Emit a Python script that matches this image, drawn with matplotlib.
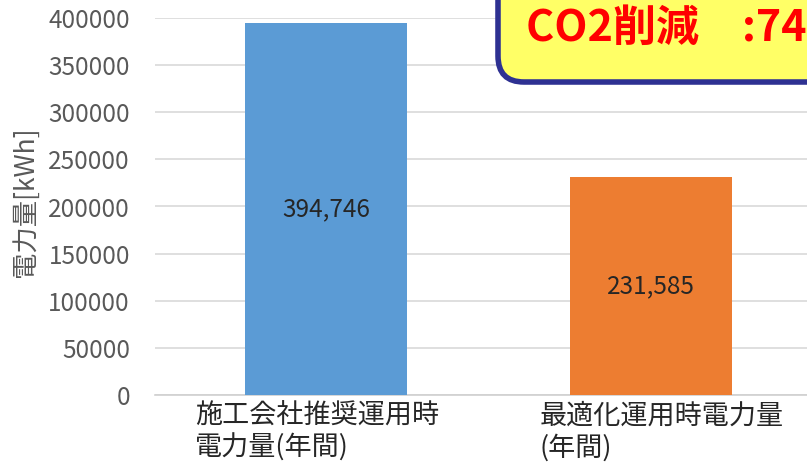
import matplotlib
matplotlib.use("Agg")
import matplotlib.pyplot as plt
from matplotlib.patches import FancyBboxPatch
from matplotlib.transforms import IdentityTransform

plt.rcParams['font.family'] = ['Noto Sans CJK JP', 'DejaVu Sans']

categories = ["施工会社推奨運用時\n電力量(年間)", "最適化運用時電力量\n(年間)"]
values = [394746, 231585]
value_labels = ["394,746", "231,585"]
bar_colors = ["#5B9BD5", "#ED7D31"]
y_ticks = [0, 50000, 100000, 150000, 200000, 250000, 300000, 350000, 400000]
y_label = "電力量[kWh]"
callout_text = "CO2削減　:74"

W, H = 807, 465
fig = plt.figure(figsize=(W / 100, H / 100), dpi=100)
fig.patch.set_facecolor("white")

left, right, bottom, top = 155, 815, 395, 18
ax = fig.add_axes([left / W, 1 - bottom / H, (right - left) / W, (bottom - top) / H])

x = list(range(len(categories)))
ax.bar(x, values, width=0.5, color=bar_colors, zorder=3)
for xi, v, lab in zip(x, values, value_labels):
    ax.text(xi, v / 2, lab, ha="center", va="center", fontsize=17.5,
            color="#262626", zorder=4)

ax.set_xlim(-0.526, 1.505)
ax.set_ylim(0, 400000)
ax.set_yticks(y_ticks)
ax.set_yticklabels([str(t) for t in y_ticks], fontsize=17.5, color="#595959")
ax.set_xticks(x)
ax.set_xticklabels([])
# wrapped category labels under each bar, slightly shifted sideways
for xi, cat, dx in zip(x, categories, [-6.5, 8.0]):
    ax.annotate(cat, xy=(xi, 0), xycoords=ax.get_xaxis_transform(),
                xytext=(dx, -5.5), textcoords="offset points",
                ha="center", va="top", multialignment="left",
                fontsize=19.5, color="#262626", linespacing=1.2,
                annotation_clip=False)
ax.tick_params(axis="both", length=0)
ax.tick_params(axis="y", pad=18)
ax.grid(axis="y", color="#D9D9D9", linewidth=1.2, zorder=0)
for s in ["top", "right", "left"]:
    ax.spines[s].set_visible(False)
ax.spines["bottom"].set_color("#D0D0D0")
ax.spines["bottom"].set_linewidth(1.2)
ax.set_facecolor("white")

fig.text(25 / W, 1 - 202 / H, y_label, rotation=90, ha="center", va="center",
         fontsize=19, color="#595959")

# Callout box in the upper right corner
box = FancyBboxPatch((498, H - 82), 400, 120,
                     boxstyle="round,pad=0,rounding_size=26",
                     transform=IdentityTransform(), facecolor="#FFFF66",
                     edgecolor="#2E3192", linewidth=4, zorder=10)
fig.patches.append(box)
fig.text(526 / W, 1 - 28 / H, callout_text, ha="left", va="center",
         fontsize=31, fontweight="bold", color="#FF0000", zorder=11)

fig.savefig("out.png", dpi=100)
